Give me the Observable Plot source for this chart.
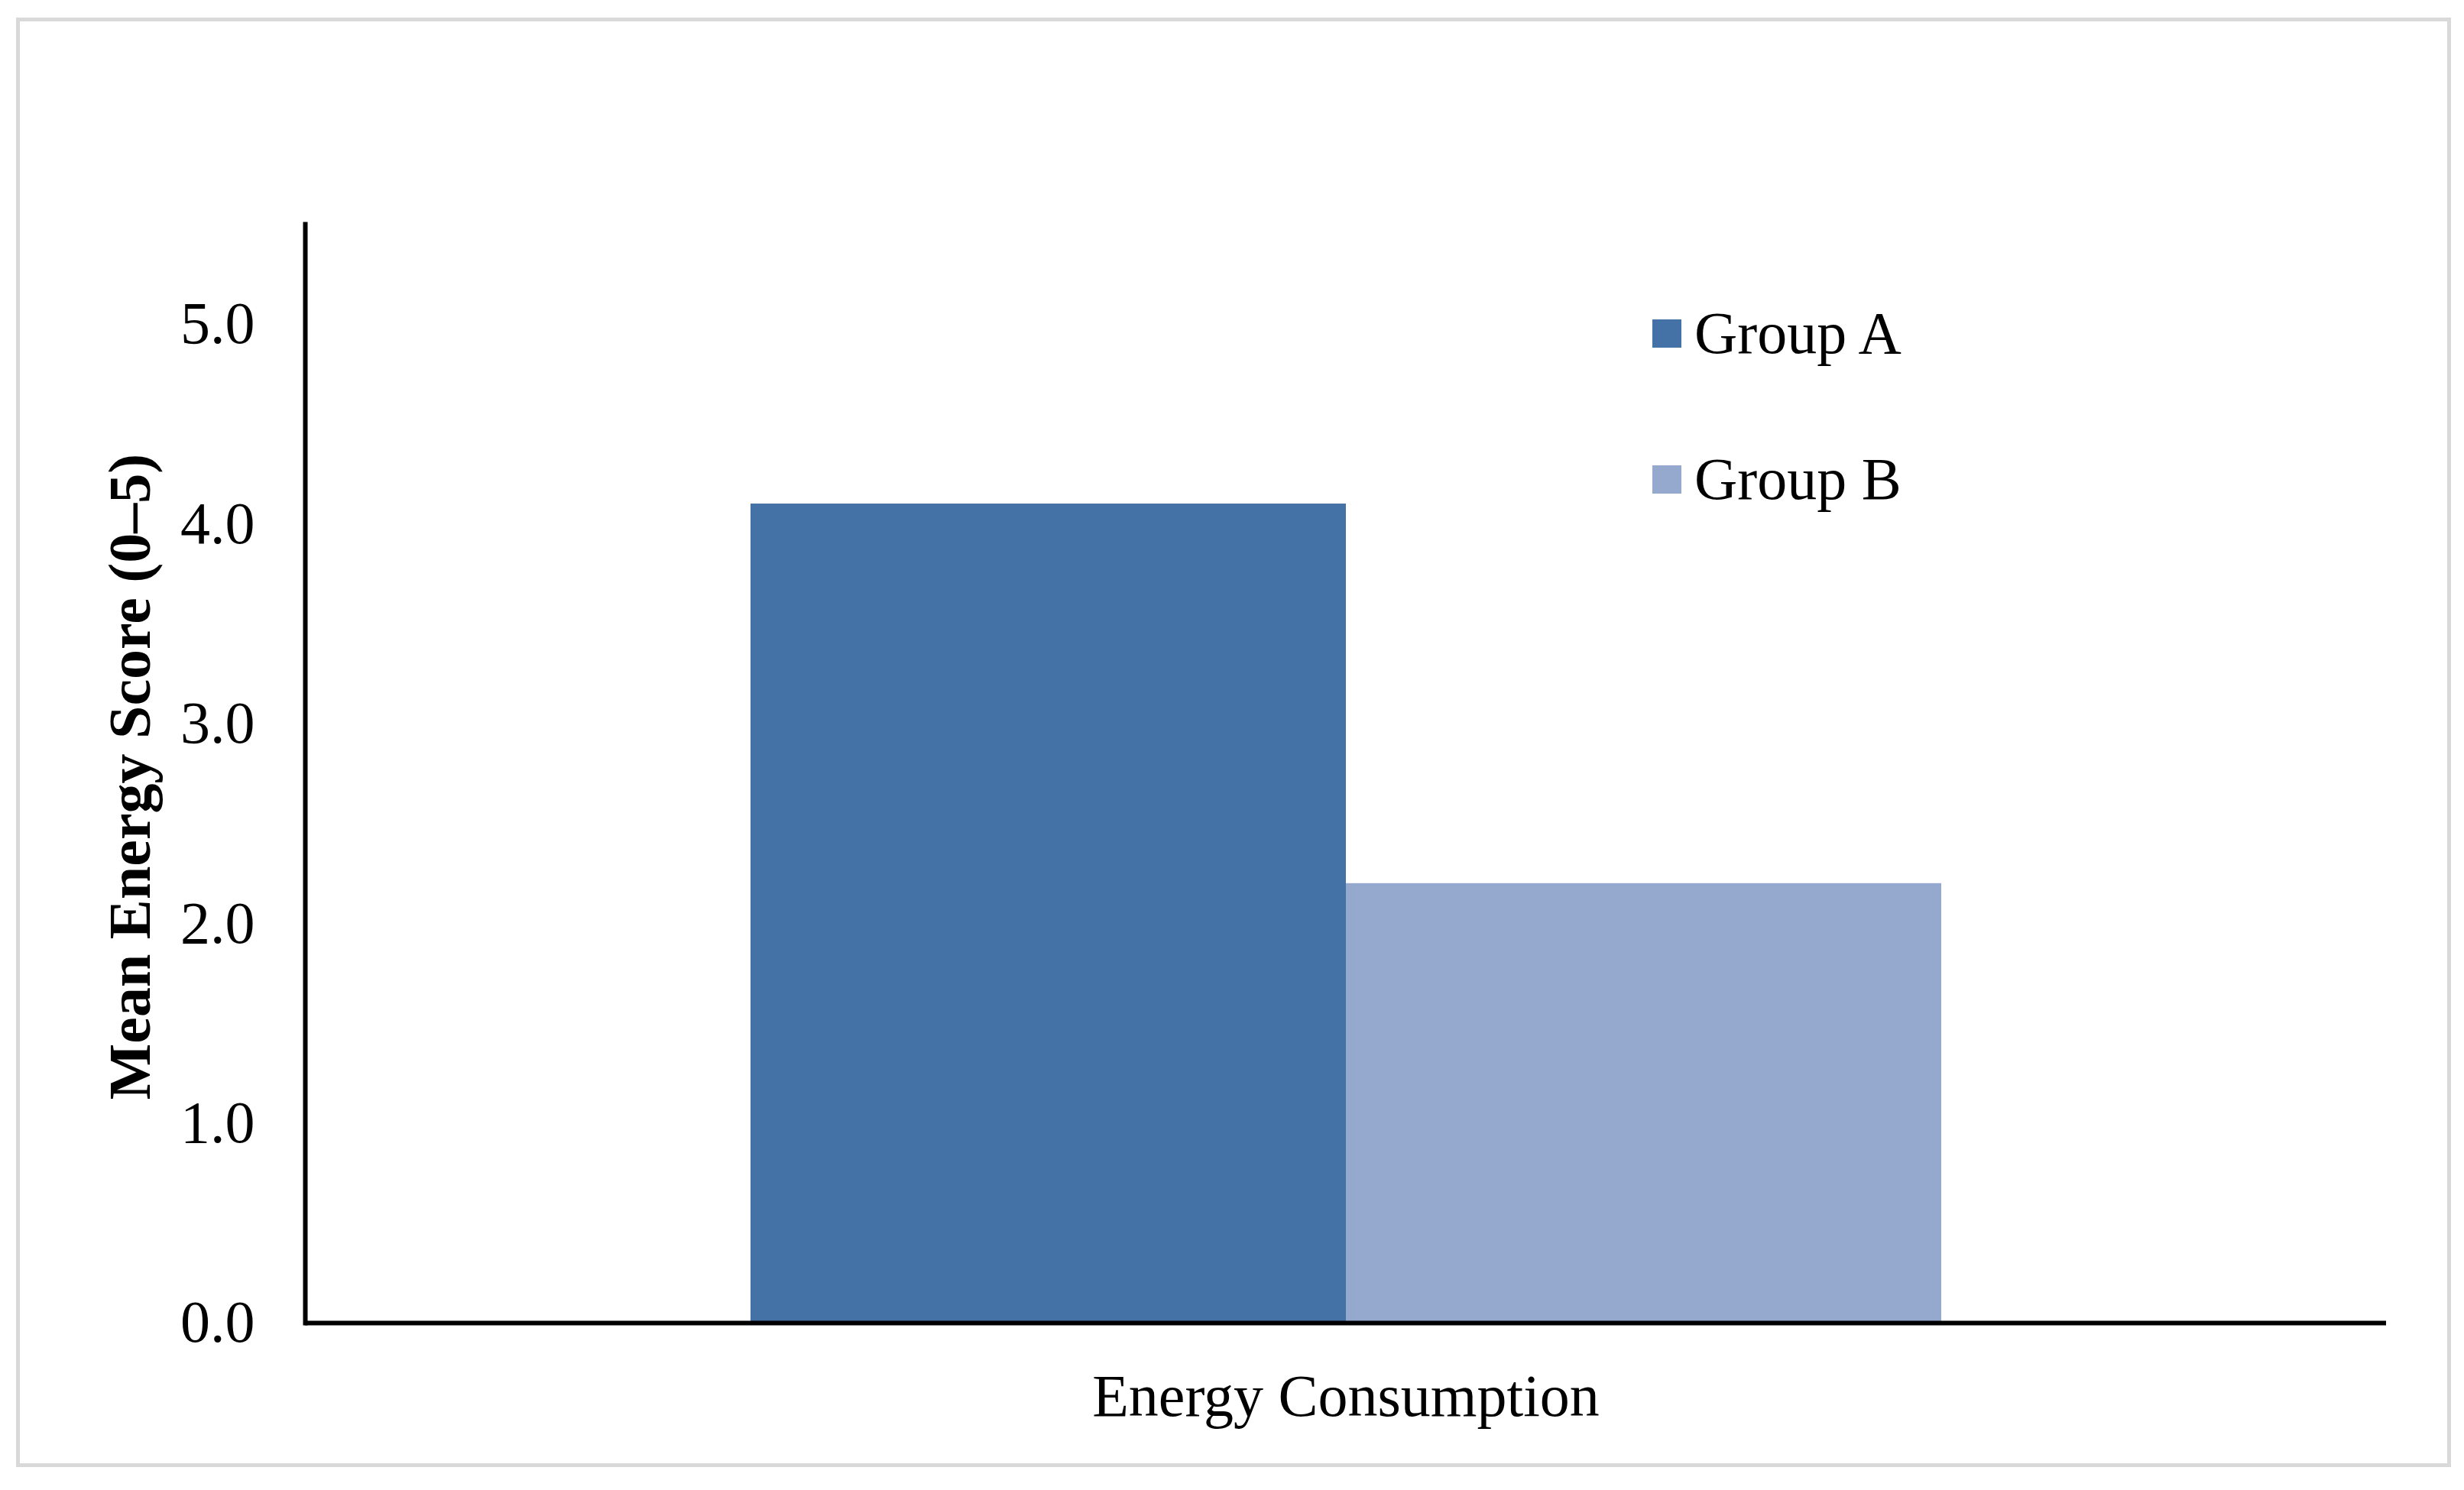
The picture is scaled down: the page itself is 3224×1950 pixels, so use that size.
<!DOCTYPE html>
<html>
<head>
<meta charset="utf-8">
<script src="https://cdn.jsdelivr.net/npm/d3@7"></script>
<script src="https://cdn.jsdelivr.net/npm/@observablehq/plot@0.6"></script>
<style>
  html, body { margin: 0; padding: 0; background: #fff; }
  #wrap { position: relative; width: 3224px; height: 1950px; overflow: hidden; background: #fff; }
  #border { position: absolute; left: 21px; top: 23px; width: 3186px; height: 1897px; box-sizing: border-box; border: 5px solid #d9d9d9; pointer-events: none; }
  #legend { position: absolute; left: 2162px; top: 380px; font-family: "Liberation Serif", "Times New Roman", serif; font-size: 78px; color: #000; }
  .item { display: flex; align-items: center; height: 112px; margin-bottom: 79px; white-space: nowrap; }
  .sw { width: 38px; height: 37px; margin-right: 17px; flex: none; }
</style>
</head>
<body>
<div id="wrap">
  <div id="chart"></div>
  <div id="legend"></div>
  <div id="border"></div>
</div>
<script>
// ---- data ----
const categories = ["Energy Consumption"];
const groups = ["Group A", "Group B"];
const values = [4.1, 2.2];
const colors = ["#4572A6", "#95A9CF"];
const yTicks = [0, 1, 2, 3, 4, 5];
const yTitle = ["Mean Energy Score (0–5)"];

const data = groups.map((g, i) => ({category: categories[0], group: g, value: values[i]}));

const chart = Plot.plot({
  width: 3224,
  height: 1950,
  marginLeft: 399,
  marginRight: 102,
  marginTop: 293,
  marginBottom: 219,
  style: {fontFamily: "'Liberation Serif', 'Times New Roman', serif", fontSize: "78px", color: "#000", background: "transparent"},
  fx: {domain: categories, padding: 0, label: null},
  x: {domain: groups, paddingInner: 0, paddingOuter: 0.746, axis: null},
  y: {domain: [0, 5.5], label: null},
  color: {domain: groups, range: colors},
  marks: [
    Plot.barY(data, {fx: "category", x: "group", y: "value", fill: "group"}),
    Plot.axisY({ticks: yTicks, tickFormat: d3.format(".1f"), tickSize: 0, tickPadding: 66, label: null, fontSize: 78}),
    Plot.axisFx({anchor: "bottom", tickSize: 0, tickPadding: 66, label: null, fontSize: 78}),
    Plot.text(yTitle, {text: d => d, frameAnchor: "left", textAnchor: "middle", lineAnchor: "middle", rotate: -90, dx: -228, dy: 4, fontWeight: "bold", fontSize: 78}),
    Plot.frame({anchor: "left", stroke: "#000", strokeWidth: 6}),
    Plot.ruleY([0], {stroke: "#000", strokeWidth: 6})
  ]
});
document.getElementById("chart").appendChild(chart);

// legend
const legend = document.getElementById("legend");
groups.forEach((g, i) => {
  const item = document.createElement("div");
  item.className = "item";
  const sw = document.createElement("span");
  sw.className = "sw";
  sw.style.background = colors[i];
  const t = document.createElement("span");
  t.textContent = g;
  item.appendChild(sw);
  item.appendChild(t);
  legend.appendChild(item);
});
</script>
</body>
</html>
